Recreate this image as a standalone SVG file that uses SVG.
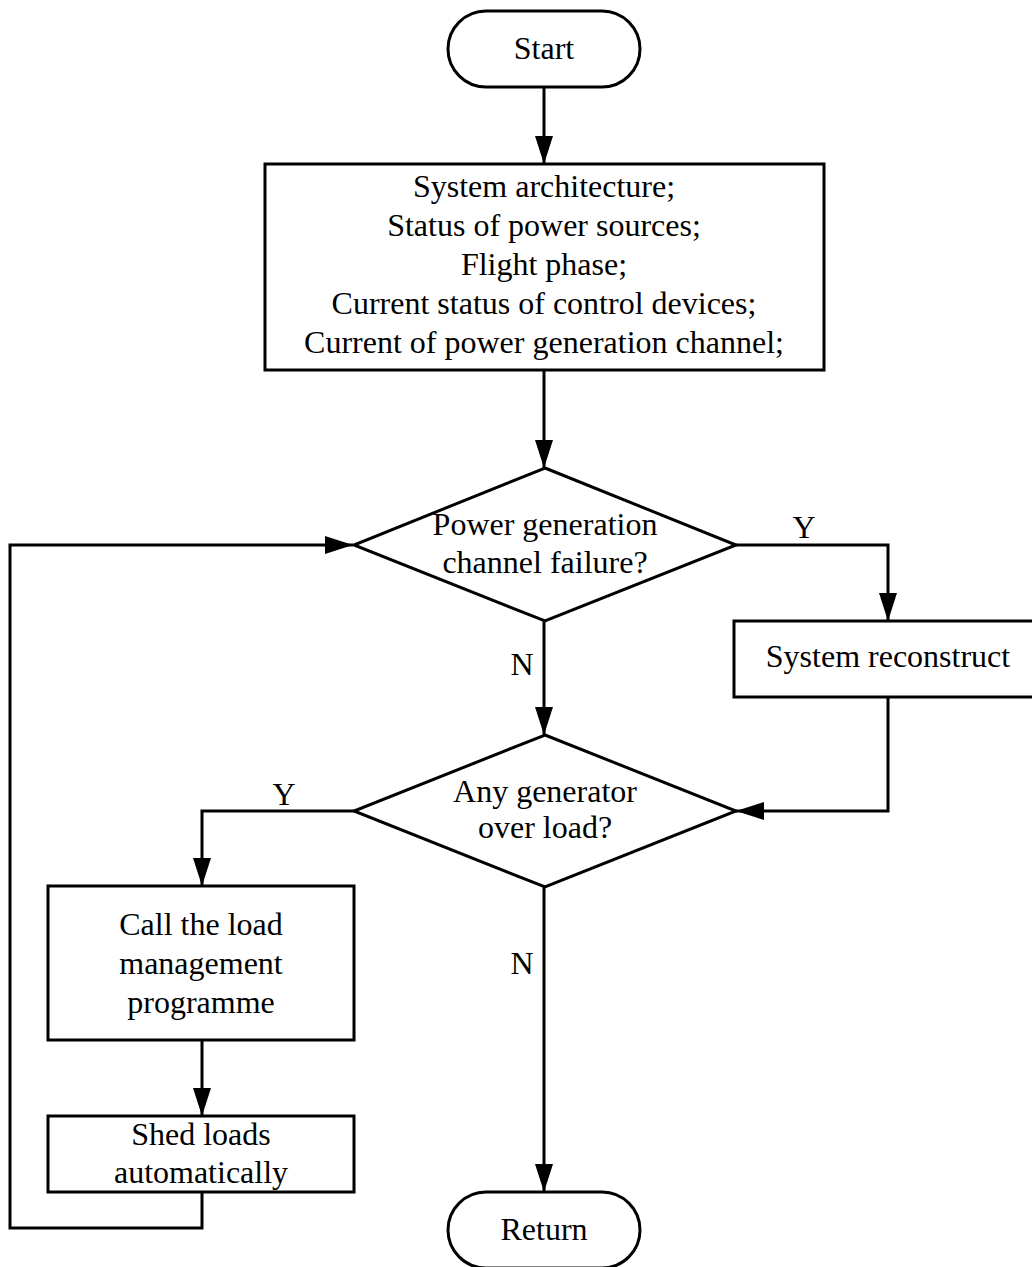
<svg xmlns="http://www.w3.org/2000/svg" width="1032" height="1267" viewBox="0 0 1032 1267">
<style>
.s{fill:#fff;stroke:#000;stroke-width:3}
.c{fill:none;stroke:#000;stroke-width:3}
text{font-family:"Liberation Serif","Times New Roman",serif;font-size:32px;fill:#000;text-anchor:middle}
</style>
<defs>
<marker id="a" markerUnits="userSpaceOnUse" markerWidth="30" markerHeight="20" refX="28" refY="9" orient="auto">
<path d="M0,0 L28,9 L0,18 z" fill="#000"/>
</marker>
</defs>
<rect width="1032" height="1267" fill="#fff"/>
<g id="connectors">
<path class="c" d="M544,87 V164" marker-end="url(#a)"/>
<path class="c" d="M544,370 V468" marker-end="url(#a)"/>
<path class="c" d="M736,545 H888 V621" marker-end="url(#a)"/>
<path class="c" d="M544,621 V735" marker-end="url(#a)"/>
<path class="c" d="M888,697 V811 H736" marker-end="url(#a)"/>
<path class="c" d="M354,811 H202 V886" marker-end="url(#a)"/>
<path class="c" d="M202,1040 V1116" marker-end="url(#a)"/>
<path class="c" d="M202,1192 V1228 H10 V545 H353" marker-end="url(#a)"/>
<path class="c" d="M544,887 V1192" marker-end="url(#a)"/>
<text x="804" y="538">Y</text>
<text x="522" y="675">N</text>
<text x="284" y="805">Y</text>
<text x="522" y="974">N</text>
</g>
<g id="start">
<rect class="s" x="448" y="11" width="192" height="76" rx="38"/>
<text x="544" y="59">Start</text>
</g>
<g id="inputs">
<rect class="s" x="265" y="164" width="559" height="206"/>
<text x="544" y="197">System architecture;</text>
<text x="544" y="236">Status of power sources;</text>
<text x="544" y="275">Flight phase;</text>
<text x="544" y="314">Current status of control devices;</text>
<text x="544" y="353">Current of power generation channel;</text>
</g>
<g id="decision1">
<polygon class="s" points="545,468 736,545 545,621 354,545"/>
<text x="545" y="535">Power generation</text>
<text x="545" y="573">channel failure?</text>
</g>
<g id="reconstruct">
<rect class="s" x="734" y="621" width="308" height="76"/>
<text x="888" y="667">System reconstruct</text>
</g>
<g id="decision2">
<polygon class="s" points="545,735 736,811 545,887 354,811"/>
<text x="545" y="802">Any generator</text>
<text x="545" y="838">over load?</text>
</g>
<g id="loadmgmt">
<rect class="s" x="48" y="886" width="306" height="154"/>
<text x="201" y="935">Call the load</text>
<text x="201" y="974">management</text>
<text x="201" y="1013">programme</text>
</g>
<g id="shed">
<rect class="s" x="48" y="1116" width="306" height="76"/>
<text x="201" y="1145">Shed loads</text>
<text x="201" y="1183">automatically</text>
</g>
<g id="return">
<rect class="s" x="448" y="1192" width="192" height="76" rx="38"/>
<text x="544" y="1240">Return</text>
</g>
</svg>
